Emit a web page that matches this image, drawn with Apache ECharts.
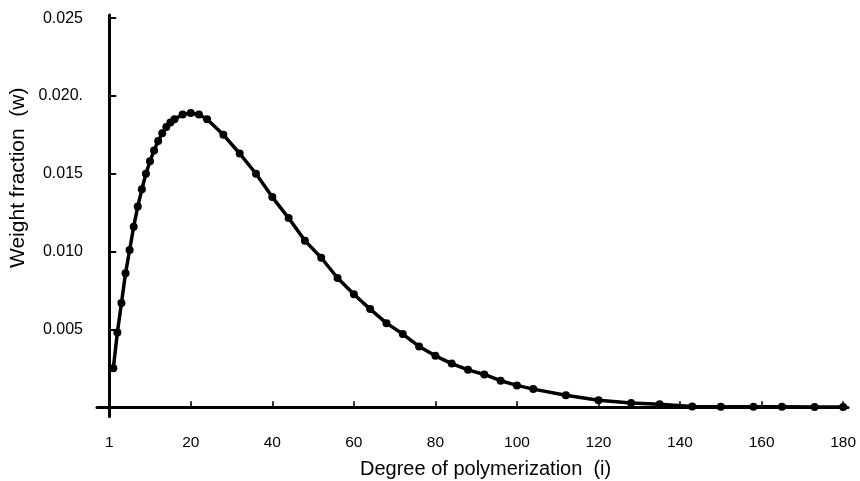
<!DOCTYPE html>
<html>
<head>
<meta charset="utf-8">
<title>Weight fraction vs degree of polymerization</title>
<script src="https://cdn.jsdelivr.net/npm/echarts@6/dist/echarts.min.js"></script>
<style>
  html, body { margin: 0; padding: 0; background: #fff; }
  #chart { width: 860px; height: 481px; }
</style>
</head>
<body>
<div id="chart"></div>
<script>
// Degree of polymerization (i) for each plotted point
const degree = [
  1, 2, 3, 4, 5, 6, 7, 8, 9, 10, 11, 12, 13, 14, 15, 16,
  18, 20, 22, 24, 28, 32, 36, 40, 44, 48, 52, 56, 60, 64, 68, 72,
  76, 80, 84, 88, 92, 96, 100, 104, 112, 120, 128, 135, 143, 150,
  158, 165, 173, 180
];

// Weight fraction (w) at each degree
const weightFraction = [
  0.0025, 0.0048, 0.0067, 0.0086, 0.0101, 0.0116, 0.0129, 0.0140,
  0.0150, 0.0158, 0.0165, 0.0171, 0.0176, 0.0180, 0.0183, 0.0185,
  0.0188, 0.0189, 0.0188, 0.0185, 0.0175, 0.0163, 0.0150, 0.0135,
  0.01215, 0.0107, 0.0096, 0.0083, 0.00726, 0.0063, 0.0054, 0.0047,
  0.0039, 0.0033, 0.0028, 0.0024, 0.0021, 0.0017, 0.0014, 0.00116,
  0.00077, 0.00045, 0.00026, 0.00018, 0.00005, 0.00003,
  0.00002, 0.00002, 0.00001, 0.00001
];

// Axis tick positions and their labels
const xTicks = [0, 20, 40, 60, 80, 100, 120, 140, 160, 180];
const xTickLabels = ['1', '20', '40', '60', '80', '100', '120', '140', '160', '180'];
const yTicks = [0.005, 0.010, 0.015, 0.020, 0.025];
const yTickLabels = ['0.005', '0.010', '0.015', '0.020.', '0.025'];

const xTitle = 'Degree of polymerization  (i)';
const yTitle = 'Weight fraction  (w)';

const FONT = '"Liberation Sans", Arial, Helvetica, sans-serif';

const points = degree.map((d, k) => [d, weightFraction[k]]);

const chart = echarts.init(document.getElementById('chart'), null, { renderer: 'canvas' });

chart.setOption({
  animation: false,
  backgroundColor: '#ffffff',
  grid: {
    left: 97,
    right: 12,
    top: 15,
    bottom: 64.5,
    containLabel: false,
    outerBoundsMode: 'none'
  },
  xAxis: {
    type: 'value',
    min: -3,
    max: 181.2,
    axisLine: { onZero: true, lineStyle: { color: '#000', width: 3 } },
    axisTick: {
      show: true,
      inside: true,
      length: 6,
      customValues: xTicks.slice(1),
      lineStyle: { color: '#000', width: 1.6 }
    },
    axisLabel: {
      customValues: xTicks,
      formatter: function (v) {
        const k = xTicks.indexOf(v);
        return k >= 0 ? xTickLabels[k] : '';
      },
      margin: 18,
      color: '#000',
      fontSize: 15.5,
      fontFamily: FONT
    },
    splitLine: { show: false }
  },
  yAxis: {
    type: 'value',
    min: -0.0006,
    max: 0.0252,
    axisLine: { show: true, onZero: true, lineStyle: { color: '#000', width: 3 } },
    axisTick: {
      show: true,
      inside: true,
      length: 7,
      customValues: yTicks,
      lineStyle: { color: '#000', width: 2 }
    },
    axisLabel: {
      customValues: yTicks,
      formatter: function (v) {
        for (let k = 0; k < yTicks.length; k++) {
          if (Math.abs(yTicks[k] - v) < 1e-9) return yTickLabels[k];
        }
        return '';
      },
      margin: 14,
      color: '#000',
      fontSize: 16,
      fontFamily: FONT
    },
    splitLine: { show: false }
  },
  graphic: [
    {
      type: 'text',
      left: 360,
      top: 459,
      style: { text: xTitle, fill: '#000', font: '20px ' + FONT }
    },
    {
      type: 'text',
      x: 8,
      y: 268,
      rotation: Math.PI / 2,
      style: { text: yTitle, fill: '#000', font: '21px ' + FONT, textVerticalAlign: 'top' }
    }
  ],
  series: [
    {
      type: 'line',
      data: points,
      symbol: 'circle',
      symbolSize: 8,
      showSymbol: true,
      itemStyle: { color: '#000' },
      lineStyle: { color: '#000', width: 3.5 },
      z: 3
    }
  ]
});
</script>
</body>
</html>
